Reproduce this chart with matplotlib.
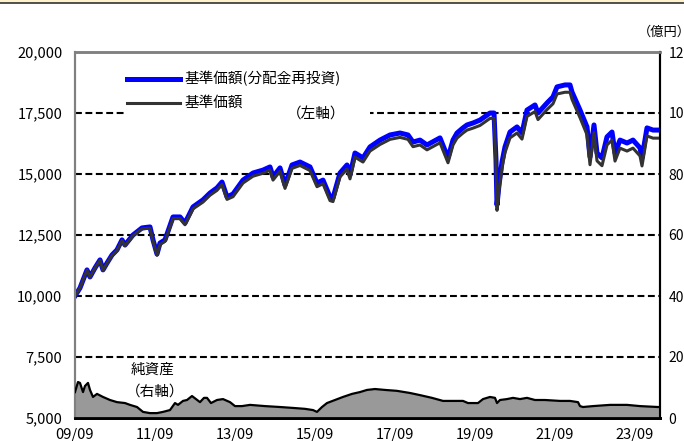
import matplotlib
matplotlib.use("Agg")
import matplotlib.pyplot as plt
from matplotlib.patches import Rectangle
from matplotlib.lines import Line2D

plt.rcParams["font.family"] = ["Noto Sans CJK JP", "DejaVu Sans"]

# months elapsed since 2009/09
months = [0, 1.5, 3.6, 4.5, 6, 7.5, 8.4, 9.6, 11.1, 12.6, 14.1, 15, 17.4, 20.1, 22.5,
          23.4, 24.6, 25.5, 27, 29.4, 31.5, 33, 35.4, 38.4, 40.5, 42.6, 44.1, 45.6,
          47.4, 50.4, 53.4, 56.4, 58.5, 59.4, 61.5, 63, 65.1, 67.5, 70.5, 72.6, 74.4,
          76.5, 77.4, 79.5, 81.6, 82.5, 84, 86.4, 88.5, 91.5, 94.5, 97.5, 99.9, 101.4,
          103.5, 105.6, 109.5, 111.9, 113.4, 114.6, 116.4, 117.6, 119.4, 121.5, 124.5,
          125.7, 126.3, 126.6, 127.2, 128.1, 129, 130.5, 132.6, 134.1, 135.6, 138,
          138.9, 141.6, 143.4, 144.6, 147, 148.5, 149.1, 151.5, 153.6, 154.5, 155.7,
          156.6, 158.1, 159.6, 161.1, 162, 163.5, 165.6, 167.4, 169.5, 170.1, 171.6,
          173.4, 175.5]

# 基準価額(分配金再投資) (円)
nav_reinvested = [10000, 10330, 11070, 10780, 11150, 11480, 11070, 11350, 11680, 11890,
                  12300, 12090, 12500, 12790, 12830, 12300, 11720, 12170, 12300, 13240,
                  13240, 12990, 13650, 13940, 14220, 14430, 14670, 14060, 14180, 14750,
                  15040, 15160, 15290, 14880, 15250, 14550, 15370, 15490, 15290, 14630,
                  14750, 14060, 14020, 15040, 15370, 14960, 15860, 15660, 16110, 16390,
                  16600, 16680, 16600, 16310, 16390, 16190, 16480, 15660, 16390, 16680,
                  16890, 17010, 17090, 17210, 17500, 17500, 15570, 13730, 14550, 15490,
                  16110, 16720, 16930, 16680, 17620, 17830, 17500, 17910, 18160, 18570,
                  18650, 18650, 18360, 17620, 16930, 15700, 17010, 15860, 15660, 16520,
                  16720, 15860, 16390, 16270, 16390, 16070, 15660, 16890, 16800, 16800]

# 基準価額 (円)
nav = [10000, 10330, 11060, 10770, 11140, 11460, 11050, 11330, 11660, 11860,
       12270, 12060, 12470, 12750, 12780, 12250, 11670, 12110, 12240, 13170,
       13170, 12920, 13570, 13850, 14130, 14330, 14570, 13960, 14070, 14630,
       14910, 15030, 15160, 14750, 15110, 14410, 15230, 15350, 15140, 14480,
       14600, 13910, 13870, 14880, 15200, 14800, 15690, 15490, 15940, 16210,
       16420, 16500, 16420, 16120, 16190, 15990, 16280, 15460, 16190, 16470,
       16680, 16800, 16880, 16990, 17280, 17280, 15350, 13510, 14330, 15260,
       15880, 16480, 16680, 16430, 17360, 17560, 17230, 17640, 17880, 18280,
       18350, 18350, 18060, 17310, 16610, 15380, 16690, 15540, 15340, 16190,
       16390, 15530, 16060, 15940, 16060, 15740, 15330, 16560, 16470, 16470]

# 純資産 (億円)
asset_months = [0, 0.9, 1.5, 2.4, 3, 3.9, 4.5, 5.4, 6.6, 8.4, 10.5, 12.6, 15, 16.5,
                18.6, 20.4, 22.5, 24.6, 26.4, 28.5, 30, 30.9, 32.4, 33.6, 35.1, 36.3,
                37.5, 38.7, 39.6, 40.8, 42.6, 44.4, 46.5, 48, 50.1, 52.5, 57, 61.5,
                65.4, 69, 71.4, 72.6, 74.1, 75.6, 78, 80.4, 83.1, 85.5, 87.6, 90, 93,
                96.6, 100.5, 103.5, 107.1, 110.4, 114, 116.4, 117.9, 120.9, 122.4,
                124.5, 126, 126.6, 127.5, 129.6, 131.4, 133.5, 135.6, 138, 141, 145.5,
                148.5, 150.9, 151.5, 152.4, 155.4, 160.5, 165.6, 169.5, 174.9, 175.5]
net_assets = [8.5, 11.8, 11.5, 8.5, 10.5, 11.5, 9.2, 6.9, 7.9, 6.9, 5.9, 5.2, 4.9, 4.3,
              3.6, 2.0, 1.6, 1.6, 2.0, 2.6, 4.9, 4.3, 5.6, 5.9, 7.2, 6.2, 5.2, 6.6,
              6.6, 4.9, 5.9, 6.2, 5.2, 3.9, 3.9, 4.3, 3.9, 3.6, 3.3, 3.0, 2.6, 2.0,
              3.6, 4.9, 5.9, 6.9, 7.9, 8.5, 9.2, 9.5, 9.2, 8.9, 8.2, 7.5, 6.6, 5.6,
              5.6, 5.6, 4.9, 4.9, 6.2, 6.9, 6.6, 4.9, 5.9, 6.2, 6.6, 6.2, 6.6, 5.9,
              5.9, 5.6, 5.6, 5.2, 3.9, 3.6, 3.9, 4.3, 4.3, 3.9, 3.6, 3.6]

x_ticks = [0, 24, 48, 72, 96, 120, 144, 168]
x_labels = ["09/09", "11/09", "13/09", "15/09", "17/09", "19/09", "21/09", "23/09"]
left_ticks = [5000, 7500, 10000, 12500, 15000, 17500, 20000]
right_ticks = [0, 20, 40, 60, 80, 100, 120]

W, H = 684, 441
L, R, T, B = 75, 660, 52, 418

fig = plt.figure(figsize=(W / 100, H / 100), dpi=100)
ax = fig.add_axes([L / W, 1 - B / H, (R - L) / W, (B - T) / H])
ax2 = ax.twinx()

# top banner of the page
fig.patches.append(Rectangle((0, 1 - 2.5 / H), 1, 2.5 / H, transform=fig.transFigure,
                             facecolor="#fff2cc", edgecolor="none"))
fig.lines.append(Line2D([0, 1], [1 - 3 / H, 1 - 3 / H], transform=fig.transFigure,
                        color="#333333", lw=1.2))

ax.set_xlim(0, 175.5)
ax.set_ylim(5000, 20000)
ax2.set_ylim(0, 120)

for v in [7500, 10000, 12500, 15000, 17500]:
    ax.axhline(v, color="black", lw=1.5, linestyle=(0, (3.3, 1.7)), zorder=1)

# legend area masks the dashed line
ax.add_patch(Rectangle(((127 - L) / (R - L), (B - 122) / (B - T)), 243 / (R - L),
                       58 / (B - T), transform=ax.transAxes, facecolor="white",
                       edgecolor="none", zorder=2))

ax.plot(months, nav_reinvested, color="#0000ff", lw=3.6, zorder=3,
        solid_joinstyle="round")
ax.plot(months, nav, color="#333333", lw=2.2, zorder=4, solid_joinstyle="round")

ax2.fill_between(asset_months, net_assets, 0, color="#999999", lw=0, zorder=2)
ax2.plot(asset_months, net_assets, color="black", lw=1.6, zorder=3)

# legend
def px(x, y):
    return (x - L) / (R - L), (B - y) / (B - T)

for ypix, col, lw, label in [(79, "#0000ff", 3.6, "基準価額(分配金再投資)"),
                             (103, "#333333", 2.2, "基準価額")]:
    x0, y0 = px(127, ypix)
    x1, _ = px(180, ypix)
    ax.plot([x0, x1], [y0, y0], transform=ax.transAxes, color=col, lw=lw, zorder=5,
            clip_on=False)
    tx, _ = px(185, ypix)
    ax.text(tx, y0, label, transform=ax.transAxes, fontsize=10.5, va="center",
            ha="left", zorder=5)

ax.text(*px(316, 115), "（左軸）", transform=ax.transAxes, fontsize=10.5,
        va="center", ha="center", zorder=5)
ax.text(*px(153, 370), "純資産", transform=ax.transAxes, fontsize=10.5,
        va="center", ha="center", zorder=5)
ax.text(*px(155, 392), "（右軸）", transform=ax.transAxes, fontsize=10.5,
        va="center", ha="center", zorder=5)
fig.text(638 / W, 1 - 32 / H, "（億円）", fontsize=9.5, va="center", ha="left")

ax.set_xticks(x_ticks)
ax.set_xticklabels(x_labels)
ax.set_yticks(left_ticks)
ax.set_yticklabels([f"{v:,}" for v in left_ticks])
ax2.set_yticks(right_ticks)
ax2.set_yticklabels([str(v) for v in right_ticks])

ax.tick_params(axis="x", direction="in", length=4, width=1, pad=7, labelsize=10.5)
ax.tick_params(axis="y", length=0, pad=9, labelsize=10.5)
ax2.tick_params(axis="y", length=0, pad=6, labelsize=10)

for a in (ax, ax2):
    a.spines["top"].set_color("#808080")
    a.spines["top"].set_linewidth(1.8)
    a.spines["left"].set_color("#808080")
    a.spines["left"].set_linewidth(1.5)
    a.spines["right"].set_color("black")
    a.spines["right"].set_linewidth(1.5)
    a.spines["bottom"].set_color("black")
    a.spines["bottom"].set_linewidth(2)

fig.savefig("out.png", dpi=100)
